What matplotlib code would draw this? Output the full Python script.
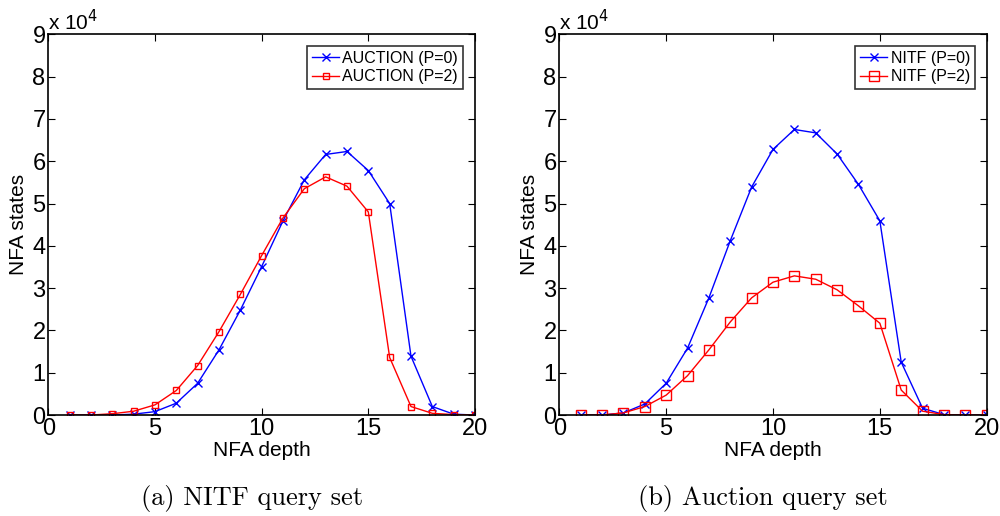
import matplotlib
matplotlib.use("Agg")
import matplotlib.pyplot as plt

depth = list(range(1, 21))

# Left panel: NITF query set
auction_p0 = [0, 0, 0, 200, 800, 2800, 7500, 15400, 24800, 35100, 45900, 55600,
              61600, 62300, 57800, 50000, 13900, 2000, 200, 0]
auction_p2 = [0, 0, 300, 900, 2400, 5800, 11700, 19700, 28500, 37700, 46600, 53500,
              56300, 54100, 48000, 13600, 2000, 400, 100, 0]

# Right panel: Auction query set
nitf_p0 = [0, 0, 500, 2600, 7500, 15800, 27700, 41200, 53900, 62800, 67500, 66700,
           61700, 54500, 45900, 12500, 1600, 100, 0, 0]
nitf_p2 = [0, 0, 500, 2000, 4700, 9300, 15400, 22000, 27700, 31400, 32900, 32100,
           29600, 25800, 21700, 5900, 900, 100, 0, 0]

xticks = [0, 5, 10, 15, 20]
yticks = [0, 1, 2, 3, 4, 5, 6, 7, 8, 9]

panels = [
    dict(rect=[0.0483, 0.1957, 0.4267, 0.7378], p0=auction_p0, p2=auction_p2,
         lab0="AUCTION (P=0)", lab2="AUCTION (P=2)", ms2=4.5,
         caption="(a) NITF query set", cx=0.252),
    dict(rect=[0.5593, 0.1957, 0.4274, 0.7378], p0=nitf_p0, p2=nitf_p2,
         lab0="NITF (P=0)", lab2="NITF (P=2)", ms2=7,
         caption="(b) Auction query set", cx=0.763),
]

sans = ["Liberation Sans", "DejaVu Sans"]
fig = plt.figure(figsize=(10, 5.16), dpi=100)

for p in panels:
    ax = fig.add_axes(p["rect"])
    ax.plot(depth, p["p0"], color="#0000ff", lw=1.0, marker="x", ms=6, mew=1.0,
            label=p["lab0"])
    ax.plot(depth, p["p2"], color="#ff0000", lw=1.0, marker="s", ms=p["ms2"], mew=1.0,
            mfc="none", label=p["lab2"])
    ax.set_xlim(0, 20)
    ax.set_ylim(0, 90000)
    ax.set_xticks(xticks)
    ax.set_xticklabels([str(v) for v in xticks], family=sans, fontsize=17)
    ax.set_yticks([v * 10000 for v in yticks])
    ax.set_yticklabels([str(v) for v in yticks], family=sans, fontsize=17)
    ax.tick_params(direction="in", top=True, right=True, length=5, width=0.8, pad=2)
    for s in ax.spines.values():
        s.set_linewidth(1.2)
    ax.set_xlabel("NFA depth", family=sans, fontsize=15, labelpad=1)
    ax.set_ylabel("NFA states", family=sans, fontsize=15, labelpad=3)
    ax.text(0.0, 1.0, r"x 10$^{4}$", transform=ax.transAxes, family=sans,
            fontsize=15, ha="left", va="bottom")
    leg = ax.legend(loc="upper right", prop={"family": sans, "size": 11.5},
                    frameon=True, fancybox=False, edgecolor="black",
                    handlelength=1.7, handletextpad=0.2, borderpad=0.3,
                    labelspacing=0.2, borderaxespad=0.75)
    leg.get_frame().set_linewidth(1.2)
    fig.text(p["cx"], 0.033, p["caption"], family=["cmr10", "DejaVu Serif"],
             fontsize=19, ha="center", va="center")

fig.savefig("out.png", dpi=100)
